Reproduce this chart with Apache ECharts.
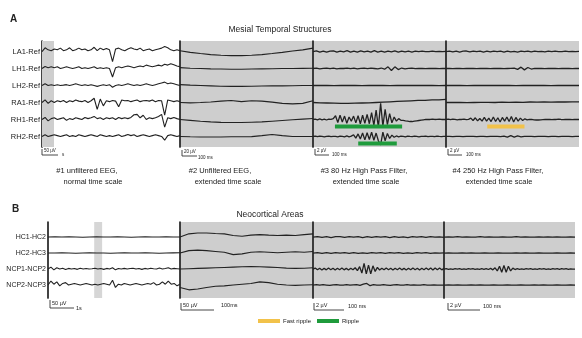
<!DOCTYPE html>
<html>
<head>
<meta charset="utf-8">
<script src="https://cdn.jsdelivr.net/npm/echarts@6/dist/echarts.min.js"></script>
<style>
  html, body { margin: 0; padding: 0; background: #fff; }
  #main { width: 582px; height: 338px; }
</style>
</head>
<body>
<div id="main"></div>
<script>
// channel names
var chA = ['LA1-Ref', 'LH1-Ref', 'LH2-Ref', 'RA1-Ref', 'RH1-Ref', 'RH2-Ref'];
var chB = ['HC1-HC2', 'HC2-HC3', 'NCP1-NCP2', 'NCP2-NCP3'];

// A #1 unfiltered, normal time scale (units: channel spacing, + = up)
var a1LA1 = [0, 0.22, 0.1, 0.05, 0.15, 0.1, 0.2, 0.05, 0.1, 0.22, 0.05, 0.1, 0.2, 0.1, 0.15, 0.05, 0.1, 0.25, 0.05, 0.2, 0.1, 0.18, 0.1, -0.6, 0.15, 0.2, 0.1, 0.05, 0.15, 0.22, 0.15, 0.1, 0.2, 0.05, 0.1, 0.15, 0.05, 0.1, 0.15, 0.2, 0.3, 0.22, 0.1, 0.05, 0.1, 0.05];
var a1LH1 = [0, 0.12, 0.05, 0.1, 0.05, 0.1, 0, 0.05, 0.1, 0.05, 0, 0.05, 0.1, 0, 0.05, 0, 0.05, 0.1, 0, 0.05, 0, 0.05, 0, -0.5, 0.05, 0.1, 0.05, 0.1, 0.15, 0.1, 0.05, 0.1, 0.15, 0.1, 0.2, 0.15, 0.1, 0.15, 0.2, 0.15, 0.25, 0.2, 0.28, 0.22, 0.15, 0.1];
var a1LH2 = [0, 0.1, 0, 0.05, 0, 0.05, 0, 0.02, 0.05, 0, 0.05, 0.1, 0.05, 0, 0.05, 0, 0.05, 0, -0.05, 0, 0.05, 0, 0.05, -0.1, 0, 0.05, 0, 0.05, 0.1, 0.05, 0, 0.05, 0, 0.05, 0.1, 0.05, 0, 0.05, 0.1, 0.15, 0.2, 0.1, 0.15, 0.1, 0.05, 0];
var a1RA1 = [0, 0.15, -0.05, 0.1, 0, 0.1, 0.05, 0.12, 0, 0.1, 0.05, 0.15, 0.08, 0.05, 0.12, 0, 0.1, 0.25, -0.4, 0.2, -0.2, 0.1, 0.05, 0.12, 0.08, -0.25, 0.15, 0.1, 0.12, 0.05, 0.1, 0.15, 0.05, 0.1, 0.12, 0.08, 0.15, 0.05, 0.12, 0.1, -0.75, 0.15, 0.1, 0.05, 0.1, 0.05];
var a1RH1 = [0, 0.12, -0.08, 0.05, 0.1, 0, 0.05, 0.1, -0.05, 0.05, 0, 0.1, 0.05, 0, 0.12, 0.05, 0.1, 0.18, 0.05, 0.1, 0, 0.1, 0.05, 0.1, 0, 0.12, 0.05, 0.1, 0.05, 0.12, 0.28, 0.3, 0.1, 0.25, 0, 0.1, 0.05, 0.1, 0.18, 0.3, -0.45, 0.1, 0.05, 0.12, 0.05, 0];
var a1RH2 = [0, 0.1, 0, 0.05, 0.1, 0.05, 0, 0.05, 0.1, 0, 0.05, 0, 0.1, 0.05, 0, 0.05, 0.1, 0.05, 0, 0.1, 0.05, 0, 0.05, 0, 0.05, 0.1, 0, 0.05, 0.12, 0.05, 0.1, 0, 0.05, 0.1, 0.05, 0, 0.05, 0.1, 0.05, 0, -0.22, 0.05, 0.1, 0.05, 0, 0.05];

// A #2 unfiltered, extended time scale
var a2LA1 = [0.05, -0.05, -0.12, -0.18, -0.22, -0.24, -0.24, -0.22, -0.18, -0.12, -0.05, 0.03, 0.1, 0.2];
var a2LH1 = [0.05, 0.02, 0, -0.02, -0.03, -0.04, -0.04, -0.03, -0.02, -0.01, 0, 0, 0.01, 0.02];
var a2LH2 = [0.05, 0.02, 0, -0.02, -0.04, -0.05, -0.05, -0.04, -0.03, -0.02, -0.02, -0.01, 0, 0];
var a2RA1 = [0, -0.02, 0, 0.03, 0.08, 0.12, 0.05, 0.1, 0.08, 0.02, -0.05, -0.08, -0.05, 0.1];
var a2RH1 = [0, -0.05, -0.1, -0.14, -0.17, -0.18, -0.18, -0.16, -0.14, -0.1, -0.06, -0.02, 0.02, 0.06];
var a2RH2 = [0, -0.02, -0.03, -0.03, -0.03, -0.02, -0.02, -0.01, 0.05, 0.12, 0.05, 0, 0, 0];

// A #3 80 Hz high pass
var a3LA1 = [0, 0.04, -0.03, 0.03, -0.04, 0.02, 0.04, -0.03, 0.03, -0.02, 0.05, -0.04, 0.03, -0.03, 0.04, -0.02, 0.03, -0.04, 0.05, -0.03, 0.02, -0.04, 0.03, -0.02, 0.04, -0.03, 0.03, -0.02, 0.02, -0.03, 0.02, -0.01, 0.02, 0, -0.01, 0.02, -0.01, 0.01, 0, 0.01];
var a3LH1 = [0, 0.02, -0.02, 0.01, 0.02, -0.01, 0.02, -0.02, 0.01, 0, 0.02, -0.01, 0.02, -0.02, 0.01, 0.02, -0.01, 0.02, 0, -0.02, 0.03, -0.04, 0.1, -0.12, 0.1, -0.06, 0.03, -0.02, 0.01, 0.02, -0.01, 0, 0.01, -0.01, 0, 0.01, 0, -0.01, 0.01, 0];
var a3LH2 = [0, 0.01, 0, -0.01, 0.01, 0, 0.01, -0.01, 0, 0.01, 0, -0.01, 0, 0.01, 0, 0, 0.01, 0, -0.01, 0];
var a3RA1 = [0, -0.02, -0.03, -0.04, -0.05, -0.05, -0.04, -0.03, -0.02, 0, 0.02, 0.04, 0.06, 0.08, 0.1, 0.12, 0.13, 0.15, 0.16, 0.18];
var a3RH1 = [0, 0.02, -0.02, 0.03, -0.02, 0.02, -0.03, 0.02, 0, 0.05,
  0.22, -0.18, 0.25, -0.15, 0.2, -0.22, 0.15, -0.1, 0.2, -0.2,
  0.22, -0.25, 0.25, -0.22, 0.3, -0.25, 0.4, -0.35, 0.55, -0.45,
  0.95, -0.4, 0.6, -0.3, 0.35, -0.2, 0.15, -0.1, 0.05, -0.05,
  -0.05, -0.08, -0.1, -0.12, -0.12, -0.1, -0.08, -0.06, -0.04, -0.02,
  0, 0.01, 0, 0.02, 0, 0.01, 0.02, 0, 0.01, 0];
var a3RH2 = [0, 0.02, -0.01, 0.02, 0, -0.02, 0.01, 0.02, -0.01, 0,
  0.01, -0.02, 0.02, 0, -0.02, 0.03, -0.02, 0.02, 0.1, -0.1,
  0.15, -0.15, 0.2, -0.2, 0.22, -0.18, 0.25, -0.22, 0.2, -0.25,
  -0.5, 0.25, -0.25, 0.18, -0.12, 0.08, -0.05, 0.03, -0.02, 0.02,
  0, -0.02, 0.02, 0, -0.01, 0.02, 0, -0.02, 0.01, 0,
  0.02, -0.01, 0, 0.01, -0.01, 0.02, 0, -0.01, 0.01, 0];

// A #4 250 Hz high pass
var a4LA1 = [0, 0.03, -0.02, 0.02, -0.03, 0.02, 0.03, -0.02, 0.02, -0.01, 0.03, -0.03, 0.02, -0.02, 0.03, -0.01, 0.02, -0.03, 0.03, -0.02, 0.01, -0.03, 0.02, -0.01, 0.03, -0.02, 0.02, -0.01, 0.01, -0.02, 0.02, -0.01, 0.02, 0, -0.01, 0.02, -0.01, 0.01, 0, 0.01];
var a4LH1 = [0, 0.01, -0.01, 0.01, 0, -0.01, 0.01, 0, 0.01, -0.01, 0, 0.01, 0, -0.01, 0.01, 0, 0.01, -0.01, 0, 0.01, 0.02, -0.05, 0.08, -0.08, 0.06, -0.03, 0.01, 0, 0.01, -0.01, 0, 0.01, 0, -0.01, 0, 0.01, 0, -0.01, 0.01, 0];
var a4LH2 = [0, 0.01, 0, -0.01, 0, 0.01, 0, 0, 0.01, 0, -0.01, 0, 0.01, 0, 0, -0.01, 0, 0.01, 0, 0];
var a4RA1 = [0, 0.01, 0, -0.01, 0, 0.01, 0.01, 0, 0.02, 0.01, 0.02, 0.01, 0.03, 0.02, 0.03, 0.02, 0.03, 0.03, 0.04, 0.04];
var a4RH1 = [0, 0.02, -0.01, 0.02, 0, -0.02, 0.01, 0, 0.02, -0.01,
  0.01, 0.08, -0.06, 0.1, -0.08, 0.06, -0.1, 0.12, -0.1, 0.08,
  -0.12, 0.15, -0.12, 0.1, -0.15, 0.12, -0.1, 0.15, -0.12, 0.18,
  -0.15, 0.12, -0.1, 0.08, -0.06, 0.04, -0.02, 0.01, 0, -0.02,
  -0.03, -0.03, -0.02, -0.01, 0, 0.01, 0, -0.01, 0.01, 0,
  0.02, 0, -0.01, 0.01, 0, 0.01, -0.01, 0, 0.01, 0];
var a4RH2 = [0, 0.01, -0.01, 0.01, 0, -0.01, 0.01, 0, 0.01, -0.01, 0, 0.01, -0.01, 0, 0.01, 0, -0.01, 0.02, -0.04, 0.05, -0.04, 0.03, -0.02, 0.01, 0, 0.01, -0.01, 0, 0.01, 0, -0.01, 0.01, 0, -0.01, 0, 0.01, 0, -0.01, 0.01, 0];

// B #1
var b1HC1 = [0, 0.01, 0, 0.01, 0, -0.01, 0, 0.01, 0, 0, 0.01, 0, -0.01, 0, 0.01, 0, 0, 0.01, 0, 0];
var b1HC2 = [0, 0, 0.01, 0, -0.01, 0, 0.01, 0, 0, -0.01, 0, 0.01, 0, 0, 0.01, 0, -0.01, 0, 0.01, 0.02];
var b1NCP1 = [0, 0.12, -0.05, 0.08, 0, 0.05, -0.03, 0.04, 0, 0.03, -0.02, 0.05, 0, 0.03, 0, 0.02, 0.05, 0, 0.03, -0.02, 0.04, 0, 0.08, -0.05, 0.03, 0, 0.04, 0, 0.03, 0.05, 0, 0.03, -0.02, 0.04, 0, 0.05, 0.02, 0, 0.06, 0, 0.03, 0.08, 0, 0.04, 0.02, 0];
var b1NCP2 = [0, 0.25, 0.05, 0.2, -0.05, 0.1, 0.15, 0, 0.05, 0.1, 0.05, 0, 0.05, 0.1, 0.05, 0, 0.05, 0, 0.05, 0.1, 0.05, 0, 0.3, -0.15, 0.05, 0, 0.1, 0.05, 0, 0.05, 0.1, 0.05, 0, 0.05, 0.1, 0.05, 0.15, 0, 0.05, 0.2, 0.05, 0.25, 0.05, 0.1, -0.05, 0.05];

// B #2
var b2HC1 = [0, 0.2, 0.25, 0.25, 0.22, 0.2, 0.1, 0.05, 0.12, 0.15, 0.12, 0.1, 0.12, 0.1, 0.15, 0.2];
var b2HC2 = [0, 0.15, 0.18, 0.15, 0.1, 0.05, -0.1, -0.05, 0.05, 0.08, 0.05, 0.02, 0.05, 0.08, 0.05, 0.1];
var b2NCP1 = [0, 0.02, 0.04, 0.06, 0.08, 0.1, 0.12, 0.14, 0.15, 0.14, 0.12, 0.1, 0.06, 0.04, 0.05, 0.08];
var b2NCP2 = [-0.15, -0.3, -0.25, -0.15, -0.08, -0.05, 0, 0.05, 0.1, 0.2, 0.15, 0.05, 0, -0.02, 0, 0.02];

// B #3
var b3HC1 = [0, 0.03, -0.02, 0.02, -0.03, 0.02, 0.03, -0.02, 0.02, -0.01, 0.03, -0.03, 0.02, -0.02, 0.03, -0.01, 0.02, -0.03, 0.03, -0.02, 0.01, -0.03, 0.02, -0.01, 0.03, -0.02, 0.02, -0.01, 0.01, -0.02];
var b3HC2 = [0, 0.02, -0.02, 0.03, -0.02, 0.02, -0.01, 0.02, -0.02, 0.03, -0.02, 0.01, -0.02, 0.02, -0.01, 0.02, -0.02, 0.03, -0.01, 0.02, -0.02, 0.01, -0.02, 0.02, -0.01, 0.02, -0.02, 0.01, 0, 0.01];
var b3NCP1 = [0, 0.06, -0.05, 0.05, -0.06, 0.04, -0.05, 0.06, -0.04, 0.05, -0.06, 0.05, -0.04, 0.06, -0.05, 0.04, -0.06, 0.05, -0.05, 0.08,
  -0.1, 0.15, -0.25, 0.35, -0.3, 0.25, -0.3, 0.2, -0.15, 0.1,
  -0.06, 0.05, -0.05, 0.06, -0.04, 0.05, -0.06, 0.05, -0.04, 0.06, -0.05, 0.04, -0.06, 0.05, -0.05, 0.06, -0.04, 0.05, -0.06, 0.05,
  -0.04, 0.06, -0.05, 0.07, -0.06, 0.07, -0.05, 0.06, -0.05, 0.04];
var b3NCP2 = [0, 0.02, -0.01, 0.02, 0, -0.02, 0.01, 0.02, -0.01, 0, 0.02, -0.01, 0.01, 0.02, -0.02, 0.05, 0.1, -0.04, 0.02, 0, -0.01, 0.02, 0, -0.02, 0.01, 0.02, -0.01, 0, 0.02, -0.01, 0.01, 0, -0.01, 0.02, 0, -0.01, 0.01, 0, -0.01, 0];

// B #4
var b4HC1 = [0, 0.01, -0.01, 0.02, -0.01, 0.01, 0, -0.01, 0.02, -0.01, 0.01, 0, -0.01, 0.01, 0, -0.01, 0.02, -0.01, 0.01, 0, -0.01, 0.01, 0, 0.01, -0.01, 0.01, 0, -0.01, 0.01, 0];
var b4HC2 = [0, 0.01, 0, -0.01, 0.01, 0, 0.01, -0.01, 0, 0.01, 0, -0.01, 0.01, 0, 0, -0.01, 0.01, 0, 0.01, -0.01, 0, 0.01, 0, -0.01, 0, 0.01, 0, -0.01, 0.01, 0];
var b4NCP1 = [0, 0.02, -0.02, 0.01, -0.02, 0.02, -0.01, 0.02, -0.02, 0.01, -0.02, 0.02, -0.01, 0.02, -0.02, 0.01, -0.02, 0.02, -0.02, 0.03,
  -0.03, 0.04, -0.05, 0.08, -0.12, 0.18, -0.2, 0.22, -0.2, 0.18,
  -0.12, 0.06, -0.03, 0.02, -0.02, 0.01, -0.02, 0.02, -0.01, 0.02, -0.02, 0.01, -0.02, 0.02, -0.01, 0.02, -0.02, 0.01, -0.02, 0.02,
  -0.01, 0.02, -0.02, 0.02, -0.01, 0.02, -0.02, 0.01, -0.01, 0];
var b4NCP2 = [0, 0.01, -0.01, 0.01, 0, -0.01, 0.01, 0, 0.01, -0.01, 0, 0.01, -0.01, 0, 0.01, 0, -0.01, 0.01, 0, -0.01, 0.01, 0, 0.01, -0.01, 0, 0.01, 0, -0.01, 0.01, 0];

// detected events: [channel, from, to] as fraction of the window
var rippleEvents = [['RH1-Ref', 0.165, 0.67], ['RH2-Ref', 0.34, 0.63]];
var fastRippleEvents = [['RH1-Ref', 0.31, 0.59]];

var INK = '#222';
var GREY = '#cecece';
var GREEN = '#1f9b3c';
var YELLOW = '#f2c24a';
var FONT = 'Liberation Sans';

var sectionsA = [
  [a1LA1, a1LH1, a1LH2, a1RA1, a1RH1, a1RH2],
  [a2LA1, a2LH1, a2LH2, a2RA1, a2RH1, a2RH2],
  [a3LA1, a3LH1, a3LH2, a3RA1, a3RH1, a3RH2],
  [a4LA1, a4LH1, a4LH2, a4RA1, a4RH1, a4RH2]
];
var sectionsB = [
  [b1HC1, b1HC2, b1NCP1, b1NCP2],
  [b2HC1, b2HC2, b2NCP1, b2NCP2],
  [b3HC1, b3HC2, b3NCP1, b3NCP2],
  [b4HC1, b4HC2, b4NCP1, b4NCP2]
];

var gridBoxes = [
  [42, 41, 138, 106], [180, 41, 133, 106], [313, 41, 133, 106], [446, 41, 133, 106],
  [48, 222, 132, 76], [180, 222, 133, 76], [313, 222, 131, 76], [444, 222, 131, 76]
];

var grid = [], xAxis = [], yAxis = [], series = [];

gridBoxes.forEach(function (b, gi) {
  var inA = gi < 4;
  var names = inA ? chA : chB;
  var n = names.length;
  var first = gi % 4 === 0;
  grid.push({
    left: b[0], top: b[1], width: b[2], height: b[3],
    show: !first, backgroundColor: GREY, borderWidth: 0
  });
  xAxis.push({ gridIndex: gi, type: 'value', min: 0, max: 1, show: false });
  yAxis.push({
    gridIndex: gi, type: 'value',
    min: inA ? -0.62 : -0.81, max: inA ? 5.62 : 3.94,
    splitLine: { show: false },
    axisTick: { show: false },
    axisLine: { show: true, onZero: false, lineStyle: { color: INK, width: 1.7 } },
    axisLabel: {
      show: first,
      customValues: names.map(function (_, k) { return k; }),
      formatter: function (v) { return names[n - 1 - Math.round(v)]; },
      fontSize: inA ? 7.5 : 7, color: '#222', fontFamily: FONT, margin: 2
    }
  });
});

function addTraces(rows, gi, n, width) {
  rows.forEach(function (arr, k) {
    series.push({
      type: 'line', xAxisIndex: gi, yAxisIndex: gi,
      data: arr.map(function (v, i) { return [i / (arr.length - 1), n - 1 - k + v]; }),
      symbol: 'none', silent: true, z: 3,
      lineStyle: { color: INK, width: width }
    });
  });
}

sectionsA.forEach(function (rows, si) { addTraces(rows, si, chA.length, si < 2 ? 1.1 : 1.3); });
sectionsB.forEach(function (rows, si) { addTraces(rows, 4 + si, chB.length, si < 2 ? 1.1 : 1.3); });

// highlighted strips in the normal time scale sections
series[0].markArea = { silent: true, itemStyle: { color: GREY }, data: [[{ xAxis: 0 }, { xAxis: 0.087 }]] };
series[24].markArea = { silent: true, itemStyle: { color: '#d6d6d6' }, data: [[{ xAxis: 0.35 }, { xAxis: 0.41 }]] };

function addEvents(events, name, color, gi) {
  events.forEach(function (e) {
    var y = chA.length - 1 - chA.indexOf(e[0]) - 0.42;
    series.push({
      type: 'line', name: name, xAxisIndex: gi, yAxisIndex: gi,
      data: [[e[1], y], [e[2], y]], symbol: 'none', silent: true, z: 4,
      lineStyle: { color: color, width: 4 }, itemStyle: { color: color }
    });
  });
}
addEvents(rippleEvents, 'Ripple', GREEN, 2);
addEvents(fastRippleEvents, 'Fast ripple', YELLOW, 3);

function txt(x, y, s, size, align, weight) {
  return { type: 'text', silent: true, style: { text: s, x: x, y: y, fontSize: size, fontFamily: FONT, fontWeight: weight || 'normal', fill: '#222', textAlign: align || 'left', textVerticalAlign: 'middle' } };
}
function scaleBar(x, y, w, h, amp, time, tx, ty, size) {
  return [
    { type: 'polyline', silent: true, shape: { points: [[x, y - h], [x, y], [x + w, y]] }, style: { stroke: '#333', lineWidth: 0.9, fill: null } },
    txt(x + 2, y - h / 2 - 1, amp, size),
    txt(tx, ty, time, size)
  ];
}

var graphic = [
  txt(10, 19, 'A', 10, 'left', 'bold'), txt(12, 209, 'B', 10, 'left', 'bold'),
  txt(280, 30, 'Mesial Temporal Structures', 8.5, 'center'),
  txt(270, 215, 'Neocortical Areas', 8.5, 'center'),
  txt(87, 171, '#1 unfiltered EEG,', 7.5, 'center'), txt(93, 182, 'normal time scale', 7.5, 'center'),
  txt(220, 171, '#2 Unfiltered EEG,', 7.5, 'center'), txt(228, 182, 'extended time scale', 7.5, 'center'),
  txt(364, 171, '#3 80 Hz High Pass Filter,', 7.5, 'center'), txt(366, 182, 'extended time scale', 7.5, 'center'),
  txt(498, 171, '#4 250 Hz High Pass Filter,', 7.5, 'center'), txt(499, 182, 'extended time scale', 7.5, 'center')
].concat(
  scaleBar(42, 155, 16, 6, '50 µV', 's', 62, 155, 4.5),
  scaleBar(182, 156, 15, 6, '20 µV', '100 ms', 198, 158, 4.5),
  scaleBar(315, 155, 14, 6, '2 µV', '100 ms', 332, 155, 4.5),
  scaleBar(448, 155, 14, 6, '2 µV', '100 ms', 466, 155, 4.5),
  scaleBar(50, 308, 24, 8, '50 µV', '1s', 76, 308, 5.5),
  scaleBar(181, 310, 33, 7, '50 µV', '100ms', 221, 305, 5.5),
  scaleBar(314, 310, 30, 7, '2 µV', '100 ms', 348, 306, 5.5),
  scaleBar(448, 310, 32, 7, '2 µV', '100 ms', 483, 306, 5.5)
);

var option = {
  animation: false,
  backgroundColor: '#fff',
  grid: grid,
  xAxis: xAxis,
  yAxis: yAxis,
  legend: {
    data: ['Fast ripple', 'Ripple'],
    left: 253, top: 313, icon: 'rect', itemWidth: 22, itemHeight: 4, itemGap: 6,
    selectedMode: false,
    textStyle: { fontSize: 6, color: '#222', fontFamily: FONT, padding: [0, 0, 0, -2] }
  },
  graphic: graphic,
  series: series
};

var myChart = echarts.init(document.getElementById('main'));
myChart.setOption(option);
</script>
</body>
</html>
